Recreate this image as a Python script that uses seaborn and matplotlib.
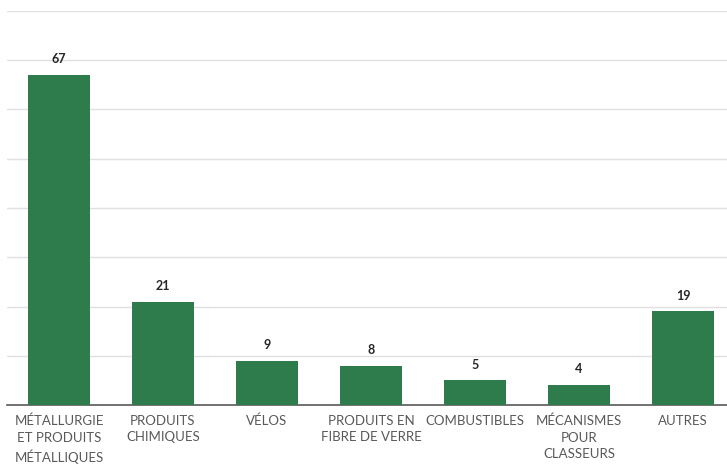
import matplotlib
matplotlib.use("Agg")
import matplotlib.pyplot as plt
import seaborn as sns
import pandas as pd

# données
categories = ["MÉTALLURGIE\nET PRODUITS\nMÉTALLIQUES", "PRODUITS\nCHIMIQUES", "VÉLOS",
              "PRODUITS EN\nFIBRE DE VERRE", "COMBUSTIBLES", "MÉCANISMES\nPOUR\nCLASSEURS", "AUTRES"]
values = [67, 21, 9, 8, 5, 4, 19]

df = pd.DataFrame({"cat": categories, "val": values})

sns.set_style("white")
plt.rcParams["font.family"] = ["Lato", "DejaVu Sans"]

fig = plt.figure(figsize=(7.27, 4.70), dpi=100)
ax = fig.add_axes([7 / 727, 65 / 470, 728 / 727, 394 / 470])

sns.barplot(data=df, x="cat", y="val", color="#2E7B4C", saturation=1, width=0.6,
            linewidth=0, ax=ax, zorder=3)

ax.set_ylim(0, 80)
ax.set_xlim(-0.5, 6.5)
ax.set_yticks(range(0, 81, 10))
ax.yaxis.grid(True, color="#e0e0e0", linewidth=1, zorder=0)
ax.set_yticklabels([])
ax.tick_params(axis="y", length=0)
ax.tick_params(axis="x", length=0, pad=7, labelsize=9.5, labelcolor="#595959")
for lab in ax.get_xticklabels():
    lab.set_linespacing(1.45)
for s in ["top", "right", "left"]:
    ax.spines[s].set_visible(False)
ax.spines["bottom"].set_color("#595959")
ax.spines["bottom"].set_linewidth(1.2)
ax.set_xlabel("")
ax.set_ylabel("")

for i, v in enumerate(values):
    ax.text(i, v + 2, str(v), ha="center", va="bottom", fontsize=9, fontweight="bold", color="#262626")

fig.savefig("out.png", dpi=100)
